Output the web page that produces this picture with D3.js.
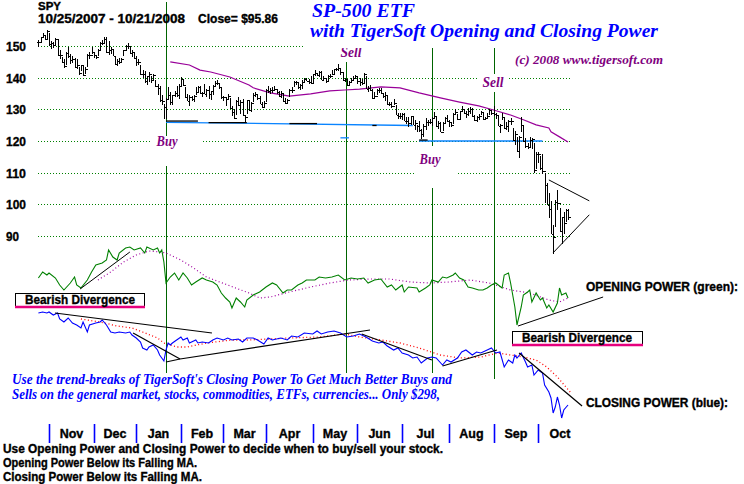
<!DOCTYPE html>
<html>
<head>
<meta charset="utf-8">
<script src="https://d3js.org/d3.v7.min.js"></script>
<style>
  body { margin:0; background:#fff; }
  svg { display:block; }
</style>
</head>
<body>
<div id="chart"></div>
<script>
// ---------- data (SPY daily, 10/25/2007 - 10/21/2008) ----------
var closes = [
  151.3,152.8,153.4,152.3,154.6,
  150.6,150.9,150.2,152.2,147.3,147.1,145.0,143.6,147.9,147.0,145.5,146.0,143.4,144.0,141.6,144.0,140.7,142.8,147.1,147.3,148.1,
  147.3,146.4,148.7,151.0,150.9,152.3,148.0,148.8,149.0,147.0,144.3,145.2,145.0,146.0,148.6,149.9,150.1,147.9,148.0,146.2,
  144.9,144.9,141.3,141.2,138.9,140.4,141.3,139.4,140.8,137.4,136.6,132.8,132.6,130.7,133.4,134.6,132.2,134.5,135.2,134.4,137.4,
  139.5,137.8,133.8,132.6,133.9,133.3,134.3,135.5,137.2,135.3,135.2,135.0,136.1,134.8,135.8,137.5,138.4,138.4,136.9,133.8,
  133.8,133.3,134.1,130.3,129.2,127.4,132.6,131.4,132.3,128.3,127.5,132.8,129.7,132.1,134.6,134.8,133.6,131.8,130.6,132.0,
  136.0,135.7,136.2,136.1,136.4,135.5,134.3,135.3,132.7,132.1,132.9,136.0,136.2,138.5,138.5,137.0,137.6,138.5,139.6,139.1,138.6,138.3,
  141.1,141.6,140.9,141.9,139.4,139.9,139.0,140.6,140.5,141.1,142.6,142.7,143.0,141.7,139.2,139.6,137.7,138.6,139.2,139.9,140.4,
  139.0,138.5,138.4,141.2,136.5,136.6,136.1,133.7,134.2,136.1,136.0,135.2,134.1,134.6,131.6,131.6,131.1,132.1,128.3,127.9,128.0,
  128.6,126.3,126.4,125.6,127.8,125.0,125.8,124.6,123.4,122.2,124.7,126.1,126.1,126.0,127.3,128.0,124.6,125.7,123.0,125.7,127.3,126.3,
  126.0,125.0,128.5,129.1,126.9,129.4,130.1,128.9,128.5,129.4,130.0,127.9,126.7,127.5,127.8,129.2,126.8,127.3,128.0,129.9,128.8,
  128.4,128.3,124.7,125.1,127.6,124.1,124.8,126.2,126.4,120.2,122.3,116.8,121.2,125.0,120.0,118.4,118.2,120.2,120.6,110.9,116.0,
  115.9,111.4,110.5,106.0,99.9,98.5,90.7,89.8,100.8,100.4,91.7,95.9,94.0,98.3,95.9
];
var highs = [
  152.0,153.0,154.0,153.6,155.0,
  154.0,151.6,151.2,152.6,152.0,148.8,146.6,145.9,148.1,149.7,147.6,146.8,146.1,146.0,143.3,144.1,144.0,143.5,147.4,148.1,149.7,
  148.1,147.2,149.0,151.2,151.8,152.8,153.0,151.5,149.6,148.9,146.8,146.0,146.2,146.3,148.7,150.2,150.8,150.0,148.8,148.1,
  146.8,145.8,144.1,142.3,142.0,140.6,141.8,140.6,141.2,139.4,138.1,137.5,134.5,131.6,133.6,136.9,135.5,134.6,135.9,137.4,138.0,
  140.2,139.7,137.2,135.0,134.5,134.2,134.6,137.0,137.3,137.4,135.6,137.9,136.5,137.4,135.9,137.8,139.0,139.3,137.9,136.6,
  134.2,133.7,134.9,133.5,130.9,130.0,132.8,133.9,133.0,133.2,128.3,133.0,132.7,132.4,135.1,135.5,134.9,134.1,132.4,132.6,
  136.3,137.3,136.7,137.0,137.4,136.3,135.9,135.9,134.9,133.5,133.4,136.3,136.9,139.0,138.9,138.6,137.9,139.3,140.0,140.0,139.5,140.6,
  141.3,142.4,141.5,142.1,142.0,140.5,139.5,140.9,141.1,142.4,142.8,143.2,144.4,142.8,141.7,139.9,139.3,139.1,139.8,140.6,140.7,
  140.2,140.0,139.6,141.4,140.6,137.4,137.6,136.3,135.6,136.3,136.6,136.7,135.3,135.4,134.2,132.2,132.4,133.2,131.5,128.8,128.9,
  128.8,129.0,127.6,127.6,128.0,127.9,126.6,125.2,126.2,123.8,125.4,127.3,126.5,126.9,127.5,129.1,128.0,126.2,126.0,126.0,127.6,128.3,
  126.7,126.1,128.7,130.0,128.6,129.6,131.0,130.2,129.6,130.3,130.6,130.5,128.3,127.9,128.4,129.5,128.9,127.7,128.7,130.2,129.5,
  131.0,128.9,128.0,125.4,129.0,127.5,126.0,126.6,127.2,124.2,123.1,121.3,121.6,127.5,124.7,121.0,119.5,121.2,121.1,119.5,116.4,
  116.5,115.3,116.0,110.0,106.8,103.5,101.0,93.5,101.3,104.6,99.0,96.0,97.5,98.6,98.4
];
var lows = [
  149.8,151.2,152.6,151.9,152.0,
  150.1,149.0,149.4,150.3,147.0,145.9,144.6,143.2,144.0,146.1,144.3,144.7,143.0,142.6,140.9,142.0,140.4,141.2,143.4,146.0,147.5,
  146.3,145.9,146.8,148.6,150.3,150.9,147.8,147.1,147.5,146.7,143.9,143.7,144.2,144.5,146.9,148.6,148.9,147.5,146.6,146.0,
  143.6,144.1,140.9,140.0,138.4,137.6,138.6,138.2,139.3,137.1,134.6,132.4,131.3,126.8,127.1,133.2,131.5,131.3,133.9,133.9,133.3,
  137.3,137.5,133.5,132.5,131.2,132.6,132.4,134.4,135.3,135.0,134.0,134.7,134.0,133.4,132.9,134.6,137.1,137.6,136.4,133.4,
  132.5,131.2,132.8,130.0,127.9,127.0,128.2,131.1,128.4,127.8,125.9,128.5,129.6,129.1,132.3,133.9,132.9,131.6,130.4,130.6,
  132.2,135.3,134.9,135.1,135.9,134.9,133.9,133.7,132.3,131.8,131.6,133.9,135.2,137.0,137.6,136.3,136.0,136.4,138.2,138.8,138.1,137.9,
  138.4,140.6,140.4,140.1,139.2,138.9,138.3,138.6,140.0,140.8,140.9,142.0,142.2,140.9,138.8,138.6,137.3,137.8,138.2,139.2,139.5,
  137.9,137.5,137.8,138.3,136.4,135.4,135.8,133.4,133.6,134.4,135.1,135.0,133.6,132.6,131.4,130.9,130.3,131.3,128.1,127.0,126.8,
  126.5,126.2,125.4,124.3,125.0,124.9,123.5,122.8,123.0,120.7,121.3,123.6,124.7,125.4,124.8,127.0,124.4,123.9,122.8,123.2,125.4,126.0,
  124.4,124.5,125.4,128.2,126.5,126.5,129.1,128.6,127.3,127.8,128.6,127.6,126.2,126.0,126.5,128.1,126.5,126.6,126.8,128.1,128.2,
  127.8,126.9,124.6,122.5,126.5,123.9,123.6,122.7,125.0,120.0,118.6,116.5,114.5,122.8,119.8,117.9,117.4,118.0,117.6,110.0,111.3,
  113.2,110.8,109.7,100.4,99.7,95.8,90.5,84.4,93.0,98.3,91.2,87.5,90.5,94.5,95.2
];

var monthNames  = ["Nov","Dec","Jan","Feb","Mar","Apr","May","Jun","Jul","Aug","Sep","Oct"];
var monthStarts = [5,26,46,67,87,107,129,150,171,193,214,235];   // trading-day index
var priceTicks  = [150,140,130,120,110,100,90];

// [day, price]
var priceMA = [[62,145.0],[71,144.0],[76,142.4],[81,141.8],[90,140.2],[99,137.7],[101,136.8],[109,135.2],
  [118,134.2],[128,134.9],[137,135.8],[144,136.1],[151,136.4],[161,137.1],[170,136.8],[179,135.2],
  [189,133.6],[198,132.3],[207,131.1],[214,129.8],[222,128.2],[228,126.7],[234,125.1],[240,124.1],
  [241,122.9],[245,121.3],[249,119.7]];

// Opening Power (green) [day, value]
var openPower = [[0,52],[2,58],[4,55],[5,57],[8,52],[10,45],[12,40],[15,47],[17,53],[18,45],[20,42],
  [23,50],[25,58],[27,65],[30,67],[32,70],[33,80],[35,73],[37,70],[38,77],[41,82],[43,83],[45,80],
  [48,82],[50,77],[51,83],[54,80],[56,82],[57,77],[58,80],[59,68],[60,47],[62,53],[64,57],[66,50],
  [68,57],[70,52],[72,45],[74,48],[77,52],[79,50],[82,48],[84,45],[86,37],[88,32],[90,28],[91,22],
  [93,32],[95,28],[97,23],[98,30],[101,35],[104,38],[107,43],[110,47],[112,45],[115,37],[117,40],
  [119,40],[122,45],[124,47],[126,50],[130,50],[132,53],[135,52],[138,53],[141,55],[144,50],[147,52],
  [150,51],[153,52],[155,47],[158,50],[161,51],[164,43],[166,45],[168,40],[171,45],[172,38],[174,43],
  [178,42],[179,38],[182,42],[184,45],[185,50],[188,48],[190,53],[192,52],[195,55],[196,57],[198,52],
  [200,50],[202,43],[204,42],[207,40],[209,40],[211,42],[213,45],[215,47],[218,42],[219,55],[221,57],
  [222,47],[224,23],[225,5],[227,23],[228,35],[230,38],[231,40],[232,28],[234,37],[236,30],[237,32],
  [239,22],[240,25],[242,18],[244,27],[245,42],[246,35],[248,37],[249,32]];
var openPowerMA = [[28,50],[34,58],[40,68],[46,75],[52,79],[57,78],[60,77],[67,70],[73,62],[79,53],
  [89,45],[99,37],[104,32],[109,33],[118,38],[128,43],[137,47],[146,50],[156,51],[165,51],[175,48],
  [184,47],[193,48],[203,50],[212,47],[222,40],[231,37],[240,30],[245,28],[249,32]];

// Closing Power (blue) [day, value]
var closePower = [[0,107],[2,108],[4,107],[5,108],[7,105],[9,107],[10,101],[12,98],[14,102],[16,97],
  [18,95],[20,92],[21,98],[23,88],[24,95],[27,97],[29,98],[30,100],[32,95],[34,88],[36,87],[38,88],
  [41,87],[43,88],[44,85],[46,82],[48,78],[49,72],[51,70],[52,73],[54,75],[56,70],[57,65],[58,62],
  [59,59],[60,70],[61,77],[62,75],[63,77],[65,80],[67,83],[68,80],[70,82],[71,77],[74,80],[75,77],
  [77,78],[80,77],[82,80],[84,82],[87,80],[89,82],[91,80],[94,81],[96,78],[98,82],[101,82],[103,80],
  [106,76],[108,82],[110,80],[114,82],[117,80],[119,84],[122,83],[125,87],[129,86],[131,89],[133,86],
  [136,88],[139,89],[142,87],[145,83],[148,84],[151,86],[154,83],[157,79],[160,77],[162,78],[164,74],
  [167,70],[169,72],[171,67],[174,65],[176,62],[178,63],[180,57],[183,62],[185,63],[187,62],[190,55],
  [192,60],[194,58],[197,62],[199,68],[201,70],[204,65],[206,68],[208,67],[211,70],[213,72],[215,67],
  [217,68],[219,53],[221,60],[223,57],[224,65],[225,62],[227,67],[229,58],[230,53],[232,55],[233,45],
  [235,50],[237,47],[238,35],[240,28],[241,22],[242,7],[243,13],[244,23],[245,15],[246,2],[247,10],[249,15]];
var closePowerMA = [[20,101],[29,98],[37,94],[44,92],[49,88],[56,82],[59,77],[65,73],[70,73],[79,77],
  [91,80],[99,80],[118,82],[132,83],[144,86],[151,83],[161,80],[170,77],[179,72],[189,65],[198,62],
  [208,63],[216,67],[222,65],[228,63],[234,60],[239,53],[244,43],[248,33],[250,28]];

// Buy / Sell signal days
var signalDays   = [60, 144.5, 185, 214];
var signalLabels = ["Buy", "Sell", "Buy", "Sell"];

// ---------- layout ----------
var W = 744, H = 484;
var sans = "'Liberation Sans', Arial, sans-serif";
var serif = "'Liberation Serif', 'Times New Roman', serif";

var svg = d3.select("#chart").append("svg")
  .attr("width", W).attr("height", H)
  .style("background", "#fff");

var x = d3.scaleLinear().domain([0, 249]).range([38.4, 38.4 + 249 * 2.127]);
var yP = d3.scaleLinear().domain([90, 150]).range([236, 46]);
var yOP = d3.scaleLinear().domain([0, 90]).range([330, 240]);
var yCP = d3.scaleLinear().domain([0, 110]).range([420, 310]);

function px(v) { return Math.round(v) + 0.5; }

function txt(s, tx, ty, o) {
  var col = o.color || "#000";
  var t = svg.append("text").attr("x", tx).attr("y", ty)
    .attr("font-family", o.serif ? serif : sans)
    .attr("font-weight", "bold")
    .attr("font-style", o.italic ? "italic" : "normal")
    .attr("font-size", o.size).attr("fill", col)
    .text(s);
  if (!o.serif) t.attr("stroke", col).attr("stroke-width", 0.35);
  if (o.w) t.attr("textLength", o.w).attr("lengthAdjust", "spacingAndGlyphs");
  if (o.anchor) t.attr("text-anchor", o.anchor);
  return t;
}

// grid
svg.append("g").selectAll("line").data(priceTicks).enter().append("line")
  .attr("x1", 38).attr("x2", 570)
  .attr("y1", d => px(yP(d))).attr("y2", d => px(yP(d)))
  .attr("stroke", "#008000").attr("stroke-width", 1)
  .attr("stroke-dasharray", "1,2");

svg.append("g").selectAll("text").data(priceTicks).enter().append("text")
  .attr("x", 6).attr("y", d => yP(d) + 5)
  .attr("font-family", sans).attr("font-weight", "bold").attr("font-size", 13)
  .attr("stroke", "#000").attr("stroke-width", 0.35)
  .attr("textLength", d => d >= 100 ? 20 : 13).attr("lengthAdjust", "spacingAndGlyphs")
  .text(d => d);

// signal verticals
svg.append("g").selectAll("line").data(signalDays).enter().append("line")
  .attr("x1", d => px(x(d))).attr("x2", d => px(x(d)))
  .attr("y1", 2).attr("y2", 379)
  .attr("stroke", "#006400").attr("stroke-width", 1);

// price support lines
var supportBlue = [[60,125.9,176,124.9],[179,120.0,237,120.0],[142,121.0,146,121.0]];
var supportBlack = [[60,126.3,75,126.3],[80,125.8,98,125.8],[118,125.5,131,125.5],[157,124.9,159,124.9],[179,120.3,183,120.3]];
svg.append("g").selectAll("line").data(supportBlue).enter().append("line")
  .attr("x1", d => x(d[0])).attr("x2", d => x(d[2]))
  .attr("y1", d => yP(d[1])).attr("y2", d => yP(d[3]))
  .attr("stroke", "#0a84ff").attr("stroke-width", 1.3);
svg.append("g").selectAll("line").data(supportBlack).enter().append("line")
  .attr("x1", d => x(d[0])).attr("x2", d => x(d[2]))
  .attr("y1", d => yP(d[1])).attr("y2", d => yP(d[3]))
  .attr("stroke", "#000").attr("stroke-width", 1.3);

// price MA
var lineP = d3.line().x(d => x(d[0])).y(d => yP(d[1]));
svg.append("path").datum(priceMA).attr("d", lineP)
  .attr("fill", "none").attr("stroke", "#990099").attr("stroke-width", 1.2);

// OHLC bars
var bars = svg.append("g").attr("stroke", "#000").attr("shape-rendering", "crispEdges");
closes.forEach(function(c, i) {
  var bx = px(x(i));
  var op = i > 0 ? closes[i - 1] : c;
  bars.append("line").attr("x1", bx).attr("x2", bx)
    .attr("y1", yP(highs[i])).attr("y2", yP(lows[i])).attr("stroke-width", 1.5);
  bars.append("line").attr("x1", bx - 2).attr("x2", bx)
    .attr("y1", px(yP(op))).attr("y2", px(yP(op))).attr("stroke-width", 1);
  bars.append("line").attr("x1", bx).attr("x2", bx + 2.5)
    .attr("y1", px(yP(c))).attr("y2", px(yP(c))).attr("stroke-width", 1);
});

// triangle
var triangle = [[240,107.7,259,101.1],[242,84.7,259,96.7]];
svg.append("g").selectAll("line").data(triangle).enter().append("line")
  .attr("x1", d => x(d[0])).attr("x2", d => x(d[2]))
  .attr("y1", d => yP(d[1])).attr("y2", d => yP(d[3]))
  .attr("stroke", "#000").attr("stroke-width", 1);

// power lines
var lineOP = d3.line().x(d => x(d[0])).y(d => yOP(d[1]));
var lineCP = d3.line().x(d => x(d[0])).y(d => yCP(d[1]));
svg.append("path").datum(openPowerMA).attr("d", lineOP)
  .attr("fill", "none").attr("stroke", "#a000a0").attr("stroke-width", 1.2).attr("stroke-dasharray", "1,2.5");
svg.append("path").datum(closePowerMA).attr("d", lineCP)
  .attr("fill", "none").attr("stroke", "#ff0000").attr("stroke-width", 1.3).attr("stroke-dasharray", "1,2.5");
svg.append("path").datum(openPower).attr("d", lineOP)
  .attr("fill", "none").attr("stroke", "#008000").attr("stroke-width", 1.1);
svg.append("path").datum(closePower).attr("d", lineCP)
  .attr("fill", "none").attr("stroke", "#0000ff").attr("stroke-width", 1.1);

// trendlines on power
var opTrend = [[19.6,41,43,78],[225.5,4,265.5,33]];
var cpTrend = [[7.8,107,81.6,87],[44.5,87,66.6,61],[60,58,66.6,61],[66.6,61,155.9,90],[152,86,185,60],[190,54,215.6,70],[226,67,255.6,14]];
svg.append("g").selectAll("line").data(opTrend).enter().append("line")
  .attr("x1", d => x(d[0])).attr("x2", d => x(d[2]))
  .attr("y1", d => yOP(d[1])).attr("y2", d => yOP(d[3]))
  .attr("stroke", "#000").attr("stroke-width", 1);
svg.append("g").selectAll("line").data(cpTrend).enter().append("line")
  .attr("x1", d => x(d[0])).attr("x2", d => x(d[2]))
  .attr("y1", d => yCP(d[1])).attr("y2", d => yCP(d[3]))
  .attr("stroke", "#000").attr("stroke-width", 1.2);

// signal labels with white boxes
var labelBoxes = [[150,136,52,30],[336,43,30,19],[414,146,44,42],[478,74,30,18]];
var labelPos = [[167,146],[351,57],[430,164],[493,87]];
signalLabels.forEach(function(t, i) {
  var b = labelBoxes[i];
  svg.append("rect").attr("x", b[0]).attr("y", b[1]).attr("width", b[2]).attr("height", b[3]).attr("fill", "#fff");
  svg.append("text").attr("x", labelPos[i][0]).attr("y", labelPos[i][1])
    .attr("text-anchor", "middle")
    .attr("font-family", serif).attr("font-weight", "bold").attr("font-style", "italic")
    .attr("font-size", 14).attr("fill", "#800080")
    .attr("textLength", 21).attr("lengthAdjust", "spacingAndGlyphs")
    .text(t);
});

// title
svg.append("rect").attr("x", 305).attr("y", 0).attr("width", 360).attr("height", 48).attr("fill", "#fff");
txt("SP-500 ETF", 312, 17, {serif:1, italic:1, size:19, color:"#0000ff", w:103});
txt("with TigerSoft Opening and Closing Power", 310, 37, {serif:1, italic:1, size:19, color:"#0000ff", w:348});
txt("(c) 2008 www.tigersoft.com", 515, 64, {serif:1, italic:1, size:13, color:"#800080", w:148});

// header
txt("SPY", 38, 9.6, {size:10.5, w:23});
txt("10/25/2007 - 10/21/2008", 38, 22.8, {size:12, w:147});
txt("Close= $95.86", 198, 22.8, {size:12, w:80});

// Bearish divergence boxes
var divBoxes = [[15,293,129,14,25,304],[512,331,130,14,522,342]];
divBoxes.forEach(function(b) {
  svg.append("rect").attr("x", b[0] + 0.5).attr("y", b[1] + 0.5).attr("width", b[2]).attr("height", b[3])
    .attr("fill", "#fff").attr("stroke", "#000").attr("stroke-width", 1);
  svg.append("line").attr("x1", b[0]).attr("x2", b[0] + b[2] + 1)
    .attr("y1", b[1] + b[3]).attr("y2", b[1] + b[3])
    .attr("stroke", "#e6007e").attr("stroke-width", 2.5);
  txt("Bearish Divergence", b[4], b[5], {size:12.5, w:110});
});

txt("OPENING POWER (green):", 586, 291, {size:12, w:152});
txt("CLOSING POWER (blue):", 586, 407, {size:12, w:142});

// promo text on a white band
svg.append("rect").attr("x", 10).attr("y", 373).attr("width", 446).attr("height", 30).attr("fill", "#fff");
txt("Use the trend-breaks of TigerSoft's Closing Power To Get Much Better Buys and", 12, 384,
  {serif:1, italic:1, size:14, color:"#0000ff", w:440});
txt("Sells on the general market, stocks, commodities, ETFs, currencies... Only $298,", 12, 399,
  {serif:1, italic:1, size:14, color:"#0000ff", w:428});

// month axis
var tickX = monthStarts.map(d => Math.round(x(d)));
svg.append("g").selectAll("line").data(tickX).enter().append("line")
  .attr("x1", d => d + 0.5).attr("x2", d => d + 0.5).attr("y1", 424).attr("y2", 443)
  .attr("stroke", "#0000ff").attr("stroke-width", 1.6);
svg.append("g").selectAll("text").data(monthNames).enter().append("text")
  .attr("x", (d, i) => i < tickX.length - 1 ? (tickX[i] + tickX[i + 1]) / 2 : tickX[i] + 22)
  .attr("y", 438).attr("text-anchor", "middle")
  .attr("font-family", sans).attr("font-weight", "bold").attr("font-size", 12.5)
  .attr("stroke", "#000").attr("stroke-width", 0.35)
  .text(d => d);

// footer notes
txt("Use Opening Power and Closing Power to decide when to buy/sell your stock.", 3, 453, {size:12, w:440});
txt("Opening Power Below its Falling MA.", 3, 467, {size:12, w:194});
txt("Closing Power Below its Falling MA.", 3, 481, {size:12, w:199});
</script>
</body>
</html>
